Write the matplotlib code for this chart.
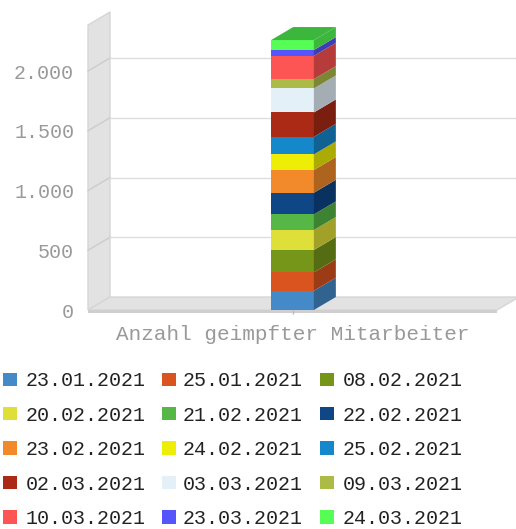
import matplotlib
matplotlib.use("Agg")
import matplotlib.pyplot as plt
from matplotlib.patches import Polygon, Rectangle
import matplotlib.colors as mcolors
import numpy as np

# ---------------- data ----------------
category = "Anzahl geimpfter Mitarbeiter"
dates = ["23.01.2021", "25.01.2021", "08.02.2021",
         "20.02.2021", "21.02.2021", "22.02.2021",
         "23.02.2021", "24.02.2021", "25.02.2021",
         "02.03.2021", "03.03.2021", "09.03.2021",
         "10.03.2021", "23.03.2021", "24.03.2021"]
values = [161, 154, 187, 167, 131, 181, 190, 131, 147, 204, 201, 78, 195, 48, 84]
colors = ["#4489c8", "#d9541e", "#76961a",
          "#dfdf3a", "#56b646", "#0e4686",
          "#f2892a", "#eded05", "#1588cc",
          "#aa2a16", "#e4f0f8", "#abbb45",
          "#fd5454", "#5555fd", "#55fd55"]
y_ticks = [0, 500, 1000, 1500, 2000]
y_tick_labels = ["0", "500", "1.000", "1.500", "2.000"]

# ---------------- layout ----------------
W, H, DPI = 516, 529, 100
FONT = ["Liberation Mono", "DejaVu Sans Mono"]
fig = plt.figure(figsize=(W / DPI, H / DPI), dpi=DPI)
L, R, B, T = 88, 497, 310, 25          # front plane in pixels (y from top)
ax = fig.add_axes([L / W, 1 - B / H, (R - L) / W, (B - T) / H])
ymax = 2385
ax.set_xlim(-0.5, 0.5)
ax.set_ylim(0, ymax)
DXp, DYp = 22, 13                        # 3D depth in pixels
dx = DXp * 1.0 / (R - L)
dy = DYp * ymax / (B - T)
for s in ax.spines.values():
    s.set_visible(False)
ax.patch.set_visible(False)

# wall and floor
ax.add_patch(Polygon([(-0.5, 0), (-0.5, ymax), (-0.5 + dx, ymax + dy), (-0.5 + dx, dy)],
                     closed=True, fc="#e2e2e2", ec="#d6d6d6", lw=1, clip_on=False, zorder=0))
ax.add_patch(Polygon([(-0.5, 0), (0.5, 0), (0.5 + dx, dy), (-0.5 + dx, dy)],
                     closed=True, fc="#e2e2e2", ec="#d6d6d6", lw=1, clip_on=False, zorder=0))
thick = 3 * ymax / (B - T)
ax.add_patch(Polygon([(-0.5, -thick), (0.5, -thick), (0.5, 0), (-0.5, 0)],
                     closed=True, fc="#cfcfcf", ec="none", clip_on=False, zorder=0))

# grid lines
for v in y_ticks[1:]:
    ax.plot([-0.5, -0.5 + dx], [v, v + dy], color="#cccccc", lw=1, clip_on=False, zorder=0.5)
    ax.plot([-0.5 + dx, 0.5 + dx], [v + dy, v + dy], color="#dedede", lw=1, clip_on=False, zorder=0.5)

# stacked 3D bar
bw = 42.7 / (R - L)
bottoms = np.concatenate([[0], np.cumsum(values)[:-1]])
bars = ax.bar([0] * len(values), values, bottom=bottoms, width=bw, color=colors,
              zorder=3, linewidth=0)
def darker(c, f=0.72):
    r, g, b = mcolors.to_rgb(c)
    return (r * f, g * f, b * f)
x1 = bw / 2
x0 = -bw / 2
for v, b, c in zip(values, bottoms, colors):
    t = b + v
    ax.add_patch(Polygon([(x1, b), (x1, t), (x1 + dx, t + dy), (x1 + dx, b + dy)],
                         closed=True, fc=darker(c), ec="none", zorder=3, clip_on=False))
top = bottoms[-1] + values[-1]
ax.add_patch(Polygon([(x0, top), (x1, top), (x1 + dx, top + dy), (x0 + dx, top + dy)],
                     closed=True, fc=darker(colors[-1]), ec="none", zorder=3, clip_on=False))

# ticks
ax.set_yticks(y_ticks)
ax.set_yticklabels(y_tick_labels, fontsize=14.4, family=FONT, color="#999999")
ax.tick_params(axis="y", length=0, pad=10)
ax.set_xticks([0])
ax.set_xticklabels([category], fontsize=15.1, family=FONT, color="#999999")
ax.tick_params(axis="x", length=3, width=1, color="#bbbbbb", pad=8)

# legend (row-wise, 3 columns)
mx = [3, 162, 320]
tx = [26, 183, 343]
for i, (d, c) in enumerate(zip(dates, colors)):
    row, col = divmod(i, 3)
    yc = 379.5 + 34.4 * row
    fig.add_artist(Rectangle((mx[col] / W, 1 - (yc + 6.5) / H), 13.5 / W, 13.5 / H,
                             transform=fig.transFigure, fc=c, ec="none"))
    fig.text(tx[col] / W, 1 - (yc + 7) / H, d, fontsize=14.4, family=FONT,
             color="#222222", va="baseline", ha="left")

fig.savefig("out.png", dpi=DPI)
